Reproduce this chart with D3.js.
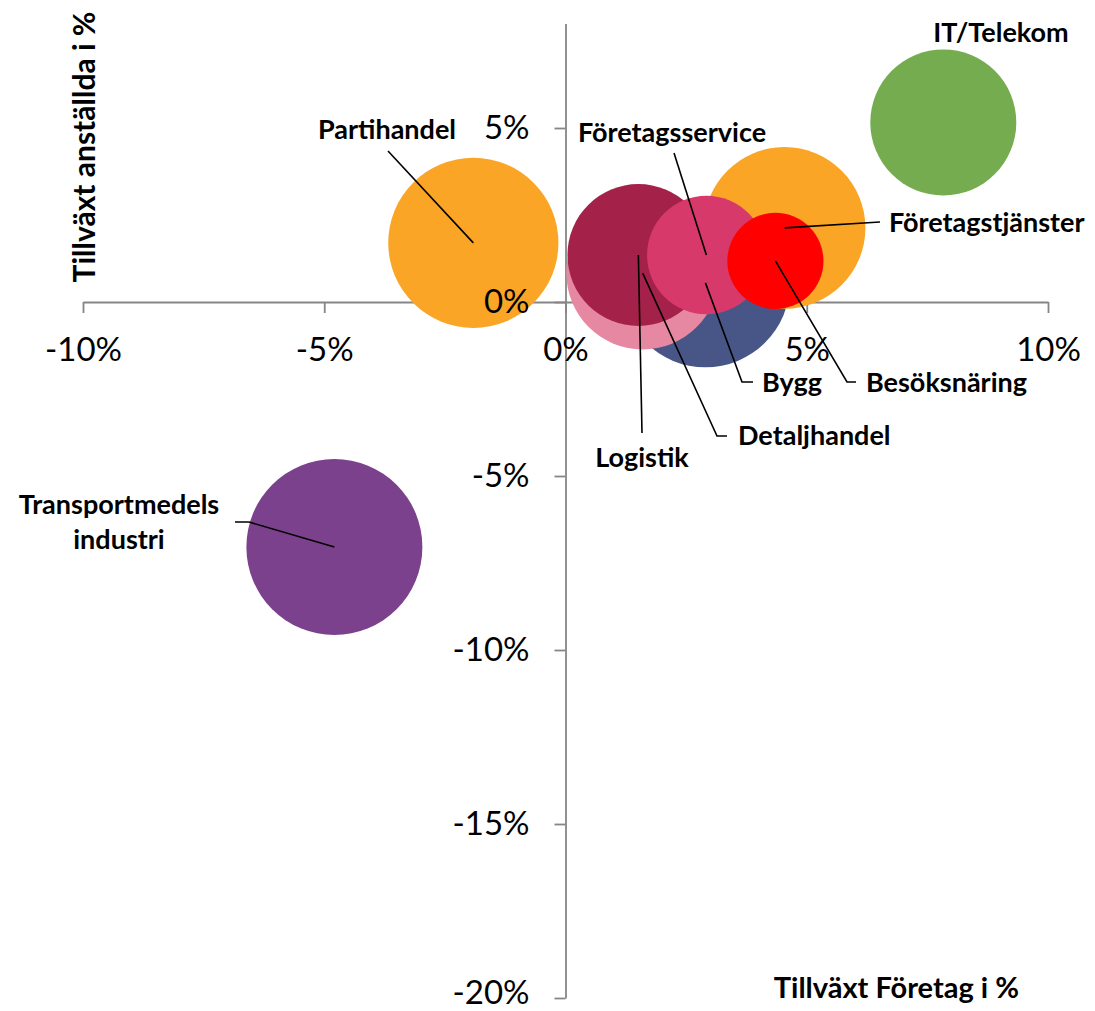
<!DOCTYPE html>
<html>
<head>
<meta charset="utf-8">
<script src="https://cdn.jsdelivr.net/npm/d3@7"></script>
<style>
  body { margin: 0; background: #fff; }
  svg text { font-family: Lato, "Open Sans", "Liberation Sans", sans-serif; }
</style>
</head>
<body>
<svg id="chart" width="1095" height="1011"></svg>
<script>
// ---------------- DATA ----------------
const sectors = ["Partihandel", "IT/Telekom", "Transportmedels industri", "Bygg", "Detaljhandel",
                 "Logistik", "Företagstjänster", "Företagsservice", "Besöksnäring"];
// Tillväxt Företag i % (x)
const growthCompanies = [-1.91, 7.83, -4.79, 2.90, 1.60, 1.51, 4.54, 2.92, 4.35];
// Tillväxt anställda i % (y)
const growthEmployees = [1.70, 5.16, -7.04, 0.55, 0.83, 1.35, 2.13, 1.35, 1.18];
// bubble size (relative)
const bubbleSize = [72, 53, 77, 71, 58, 50, 65, 35, 23];
const bubbleColors = ["#FAA526", "#74AC4F", "#7C418C", "#485687", "#E688A2",
                      "#A4224A", "#FAA526", "#D6396A", "#FF0000"];
const xTickValues = [-10, -5, 0, 5, 10];
const yTickValues = [-20, -15, -10, -5, 0, 5];
const xTitle = "Tillväxt Företag i %";
const yTitle = "Tillväxt anställda i %";

// ---------------- LAYOUT ----------------
const W = 1095, H = 1011;
const plot = { left: 83, right: 1048, top: 23.6, bottom: 998 };
const xDomain = [-10, 10], yDomain = [-20, 8];
const maxRadius = 88;

// label placement (annotation layout, pixels): text position + leader-line elbow points
const labelLayout = {
  "Partihandel":              { x: 318, y: 139, anchor: "start",  lines: ["Partihandel"], path: [[388, 151]] },
  "IT/Telekom":               { x: 1001, y: 42, anchor: "middle", lines: ["IT/Telekom"], path: [] },
  "Transportmedels industri": { x: 119, y: 514, anchor: "middle", lines: ["Transportmedels", "industri"], path: [[249, 522], [235, 522]] },
  "Bygg":                     { x: 762, y: 392, anchor: "start",  lines: ["Bygg"], path: [[742, 382], [753, 382]] },
  "Detaljhandel":             { x: 738, y: 445, anchor: "start",  lines: ["Detaljhandel"], path: [[717, 436], [727, 436]] },
  "Logistik":                 { x: 642, y: 467, anchor: "middle", lines: ["Logistik"], path: [[642, 433]] },
  "Företagstjänster":         { x: 889, y: 232, anchor: "start",  lines: ["Företagstjänster"], path: [[880, 222]] },
  "Företagsservice":          { x: 578, y: 142, anchor: "start",  lines: ["Företagsservice"], path: [[674, 153]] },
  "Besöksnäring":             { x: 866, y: 392, anchor: "start",  lines: ["Besöksnäring"], path: [[847, 382], [856, 382]] }
};

const axisColor = "#868686";
const tickFont = 33, labelFont = 27, titleFont = 29, yTitleFont = 30;

// ---------------- CHART ----------------
const svg = d3.select("#chart");
const x = d3.scaleLinear().domain(xDomain).range([plot.left, plot.right]);
const y = d3.scaleLinear().domain(yDomain).range([plot.bottom, plot.top]);
const r = d3.scaleSqrt().domain([0, d3.max(bubbleSize)]).range([0, maxRadius]);

const data = sectors.map((name, i) => ({
  name, gx: growthCompanies[i], gy: growthEmployees[i], size: bubbleSize[i], color: bubbleColors[i]
}));

const fmt = d => `${d}%`;

// axis lines (below bubbles)
const axLinesX = svg.append("g")
  .attr("transform", `translate(0,${y(0)})`)
  .call(d3.axisBottom(x).tickValues(xTickValues).tickSize(11).tickSizeOuter(0).tickFormat(""));
const axLinesY = svg.append("g")
  .attr("transform", `translate(${x(0)},0)`)
  .call(d3.axisLeft(y).tickValues(yTickValues).tickSize(11).tickSizeOuter(0).tickFormat(""));
[axLinesX, axLinesY].forEach(g => {
  g.selectAll("text").remove();
  g.select(".domain").attr("stroke", axisColor).attr("stroke-width", 1.8);
  g.selectAll(".tick line").attr("stroke", axisColor).attr("stroke-width", 1.8);
});

// bubbles
svg.append("g").selectAll("circle")
  .data(data)
  .join("circle")
  .attr("cx", d => x(d.gx))
  .attr("cy", d => y(d.gy))
  .attr("r", d => r(d.size))
  .attr("fill", d => d.color);

// tick labels (above bubbles)
const axTextX = svg.append("g")
  .attr("transform", `translate(0,${y(0)})`)
  .call(d3.axisBottom(x).tickValues(xTickValues).tickSize(11).tickPadding(24.6).tickFormat(fmt));
const axTextY = svg.append("g")
  .attr("transform", `translate(${x(0)},0)`)
  .call(d3.axisLeft(y).tickValues(yTickValues).tickSize(11).tickPadding(25).tickFormat(fmt));
[axTextX, axTextY].forEach(g => {
  g.select(".domain").remove();
  g.selectAll(".tick line").remove();
  g.attr("font-family", null).attr("font-size", null);
  g.selectAll("text").attr("fill", "#000").style("font-size", tickFont + "px");
});
// keep tick labels inside the picture (bottom edge)
axTextY.selectAll(".tick text").each(function() {
  const b = this.getBoundingClientRect();
  if (b.bottom > H) {
    d3.select(this).attr("y", -(b.bottom - H + 0.5));
  }
});

// leader lines
const lineGen = d3.line();
svg.append("g").selectAll("path")
  .data(data.filter(d => labelLayout[d.name].path.length))
  .join("path")
  .attr("d", d => lineGen([[x(d.gx), y(d.gy)], ...labelLayout[d.name].path]))
  .attr("fill", "none")
  .attr("stroke", "#000")
  .attr("stroke-width", 1.6);

// data labels
const lbl = svg.append("g").selectAll("text")
  .data(data)
  .join("text")
  .attr("x", d => labelLayout[d.name].x)
  .attr("y", d => labelLayout[d.name].y)
  .attr("text-anchor", d => labelLayout[d.name].anchor)
  .style("font-size", labelFont + "px")
  .style("font-weight", "bold")
  .attr("fill", "#000");
lbl.each(function(d) {
  const L = labelLayout[d.name];
  d3.select(this).selectAll("tspan")
    .data(L.lines)
    .join("tspan")
    .attr("x", L.x)
    .attr("dy", (t, i) => i === 0 ? 0 : 35)
    .text(t => t);
});

// axis titles
svg.append("text")
  .attr("x", 1019).attr("y", 998)
  .attr("text-anchor", "end")
  .style("font-size", titleFont + "px").style("font-weight", "bold")
  .text(xTitle);
svg.append("text")
  .attr("transform", `translate(95,147) rotate(-90)`)
  .attr("text-anchor", "middle")
  .style("font-size", yTitleFont + "px").style("font-weight", "bold")
  .text(yTitle);
</script>
</body>
</html>
